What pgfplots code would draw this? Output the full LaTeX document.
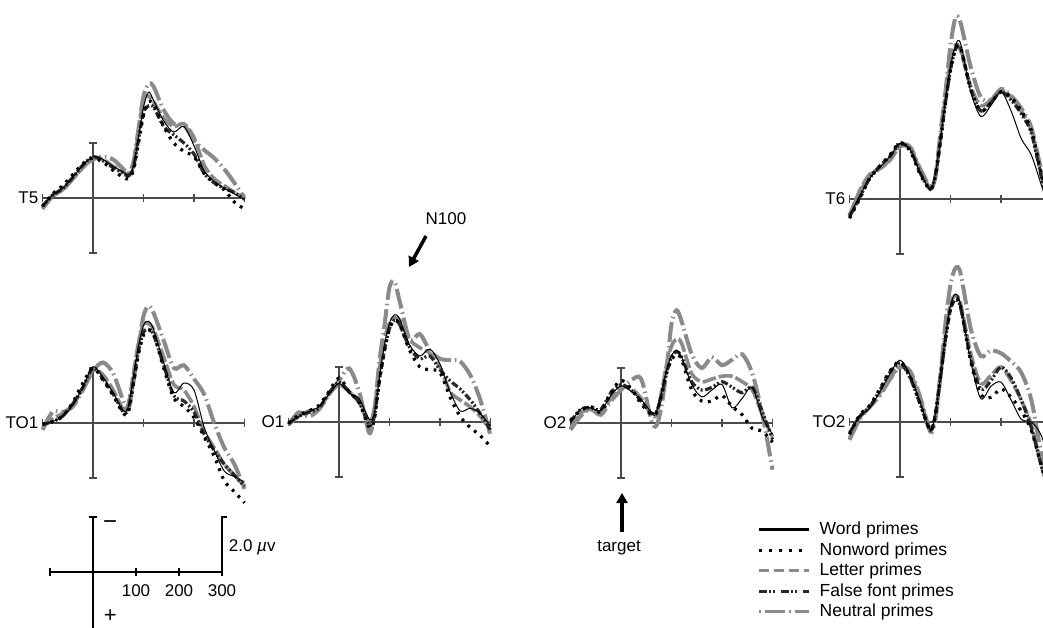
\documentclass[border=0pt]{standalone}
\usepackage{pgfplots}
\pgfplotsset{compat=1.18}
\usepackage{pgfplotstable}
\usepackage{fontspec}
\setmainfont{Liberation Sans}
\usetikzlibrary{arrows.meta}

\definecolor{lgray}{RGB}{138,138,138}
\definecolor{dgray}{RGB}{40,40,40}
\definecolor{axcol}{RGB}{75,75,75}

% values: ERP amplitude in microvolts, negativity plotted upward (value = -uV)
% columns: t (ms), w = word, n = nonword, l = letter, f = false font, u = neutral
\pgfplotstableread{
t w n l f u
-100 -0.30 -0.30 -0.40 -0.30 -0.35
-80 0.10 0.15 0.05 0.10 0.10
-60 0.35 0.45 0.30 0.35 0.30
-40 0.75 0.85 0.70 0.75 0.70
-20 1.20 1.25 1.10 1.20 1.15
0 1.50 1.45 1.45 1.50 1.40
20 1.40 1.30 1.40 1.35 1.50
40 1.15 1.00 1.15 1.10 1.40
60 0.95 0.75 0.95 0.90 1.05
70 0.85 0.70 0.85 0.80 0.90
80 1.15 1.00 1.20 1.10 1.30
90 2.20 2.00 2.40 2.10 2.50
100 3.30 3.00 3.60 3.10 3.70
110 3.85 3.50 3.70 3.35 4.15
120 3.55 3.40 3.50 3.30 4.05
140 2.80 2.60 2.90 2.60 3.20
160 2.40 2.00 2.60 2.30 2.70
180 2.60 1.70 2.70 2.00 2.65
200 1.90 1.50 2.20 1.60 2.10
220 1.00 0.90 1.20 0.90 1.75
240 0.60 0.55 0.70 0.55 1.45
260 0.35 0.30 0.45 0.35 1.05
280 0.15 -0.15 0.20 0.20 0.55
300 -0.05 -0.40 0.00 -0.05 0.00
}\tabTfive

\pgfplotstableread{
t w n l f u
-100 -0.05 -0.05 -0.15 -0.05 -0.25
-80 0.05 0.05 0.15 0.05 0.40
-60 0.25 0.25 0.35 0.25 0.40
-40 0.65 0.75 0.65 0.70 0.60
-20 1.30 1.45 1.25 1.30 1.20
0 2.05 2.00 1.95 2.00 1.90
20 1.65 1.55 1.75 1.60 2.20
40 1.10 1.00 1.20 1.05 1.80
60 0.45 0.35 0.50 0.40 0.80
70 0.60 0.40 0.70 0.50 0.50
80 1.70 1.40 1.80 1.50 1.50
90 2.80 2.50 2.90 2.60 2.80
100 3.55 3.20 3.60 3.30 3.90
110 3.70 3.35 3.60 3.40 4.25
120 3.40 3.25 3.40 3.20 4.00
140 2.20 2.00 2.40 2.10 3.00
160 1.10 0.90 1.40 1.00 2.00
180 1.45 0.60 1.20 0.80 2.10
200 1.20 0.20 0.60 0.40 1.60
220 -0.15 -0.50 -0.30 -0.40 1.05
240 -1.00 -1.20 -0.90 -1.00 0.00
260 -1.75 -2.10 -1.50 -1.50 -0.90
280 -1.95 -2.50 -1.90 -1.90 -1.50
300 -2.15 -2.90 -2.30 -2.30 -2.40
}\tabTOone

\pgfplotstableread{
t w n l f u
-100 -0.05 -0.05 -0.10 -0.05 -0.10
-80 0.20 0.25 0.20 0.20 0.35
-60 0.38 0.40 0.40 0.35 0.20
-40 0.55 0.60 0.50 0.50 0.45
-20 1.00 1.10 1.00 1.05 1.00
0 1.40 1.60 1.35 1.45 1.50
20 1.05 1.10 1.10 1.10 1.95
40 0.85 0.70 0.75 0.70 1.10
60 0.10 -0.20 0.00 -0.10 -0.40
70 0.30 0.10 0.50 0.20 0.40
80 1.60 1.50 1.90 1.50 2.20
90 2.80 2.60 3.00 2.60 3.50
100 3.60 3.40 3.60 3.40 4.90
110 3.90 3.70 3.80 3.70 5.10
120 3.75 3.55 3.70 3.55 4.40
140 2.80 2.60 3.00 2.70 3.00
160 2.40 2.00 2.70 2.30 3.20
180 2.65 1.90 2.50 2.40 2.60
200 2.10 1.80 2.00 1.90 2.30
220 1.10 0.90 1.10 1.50 2.25
240 0.40 0.20 0.80 1.20 2.20
260 0.50 -0.20 0.55 0.80 1.70
280 0.30 -0.50 0.20 0.30 0.80
300 -0.15 -0.90 -0.30 -0.30 -0.50
}\tabOone

\pgfplotstableread{
t w n l f u
-100 0.00 0.10 -0.20 0.05 -0.25
-80 0.50 0.45 0.35 0.50 0.25
-60 0.55 0.60 0.50 0.55 0.50
-40 0.45 0.40 0.40 0.50 0.30
-20 1.00 1.10 0.90 1.10 0.80
0 1.35 1.55 1.30 1.40 1.20
20 1.15 1.25 1.25 1.20 1.55
40 0.85 0.70 0.90 0.80 1.60
60 0.40 0.30 0.30 0.35 0.10
70 0.40 0.35 0.30 0.40 -0.10
80 1.10 1.00 1.10 1.00 0.60
90 1.90 1.80 2.10 1.80 1.90
100 2.45 2.30 2.80 2.40 3.60
110 2.65 2.50 3.05 2.60 4.10
120 2.40 2.30 2.90 2.40 3.70
140 1.40 1.20 1.80 1.50 2.50
160 0.95 0.80 1.50 1.20 2.00
180 1.20 0.80 1.60 1.30 2.40
200 1.40 1.00 1.70 1.50 2.10
220 0.55 0.60 1.70 1.30 2.30
240 0.90 0.30 1.50 1.10 2.50
260 1.30 -0.20 1.20 1.30 1.80
280 0.20 -0.30 0.30 0.40 0.30
300 -0.40 -0.70 -0.50 -0.60 -1.70
}\tabOtwo

\pgfplotstableread{
t w n l f u
-100 -0.60 -0.70 -0.60 -0.65 -0.60
-80 0.10 0.00 0.30 0.05 0.20
-60 0.75 0.75 0.90 0.75 0.85
-40 1.15 1.20 1.10 1.20 1.10
-20 1.55 1.60 1.40 1.55 1.45
0 2.02 2.05 1.90 2.00 1.95
20 1.80 1.75 1.85 1.80 1.90
40 0.95 0.90 1.05 0.95 1.10
60 0.35 0.35 0.40 0.35 0.45
70 0.90 0.85 0.80 0.85 0.80
80 2.15 2.10 2.20 2.10 2.40
90 3.60 3.50 3.70 3.50 3.90
100 4.80 4.70 5.00 4.70 5.60
110 5.60 5.45 5.60 5.45 6.60
120 5.65 5.50 5.40 5.50 6.40
140 3.90 4.00 4.10 4.00 4.80
160 3.00 3.20 3.40 3.20 3.70
180 3.40 3.50 3.60 3.50 3.60
200 3.90 3.90 3.95 3.90 4.00
220 3.20 3.70 3.70 3.60 3.75
240 2.20 3.20 3.20 3.10 3.30
260 1.60 2.50 2.50 2.40 2.60
280 0.50 0.90 0.90 0.80 1.00
300 -0.60 -0.50 -0.50 -0.60 -0.50
}\tabTsix

\pgfplotstableread{
t w n l f u
-100 -0.40 -0.45 -0.60 -0.40 -0.65
-80 0.20 0.25 0.15 0.20 0.10
-60 0.50 0.60 0.55 0.55 0.55
-40 1.10 1.20 1.05 1.15 0.95
-20 1.75 1.85 1.60 1.80 1.55
0 2.25 2.20 2.00 2.15 2.00
20 1.70 1.65 1.80 1.60 1.85
40 0.70 0.65 0.80 0.65 0.90
60 -0.30 -0.30 -0.25 -0.30 -0.35
70 0.30 0.25 0.20 0.30 0.10
80 1.65 1.60 1.70 1.60 1.70
90 3.10 3.00 3.20 3.00 3.60
100 4.25 4.10 4.30 4.10 5.00
110 4.65 4.50 4.60 4.45 5.60
120 4.25 4.20 4.30 4.15 5.40
140 2.20 2.20 2.50 2.30 3.40
160 0.85 1.00 1.40 1.20 2.40
180 1.30 0.90 1.70 1.50 2.60
200 1.45 1.20 2.00 2.00 2.50
220 0.80 0.90 1.50 1.60 2.20
240 0.10 0.40 0.80 0.80 1.80
260 0.00 -0.30 -0.10 -0.20 0.80
280 -0.50 -1.60 -1.60 -1.60 -1.20
300 -1.80 -2.80 -2.80 -2.80 -3.00
}\tabTOtwo

\pgfplotsset{
  panel/.style={hide axis, clip=false, scale only axis, anchor=south west,
    x=0.505pt, y=27.5pt, xmin=-100, xmax=300, ymin=-3, ymax=7},
  wordp/.style={black, line width=1pt, smooth, forget plot},
  nonwp/.style={black, line width=3.2pt, dash pattern=on 2.8pt off 5.6pt, smooth, forget plot},
  letp/.style={lgray, line width=3.6pt, dash pattern=on 14pt off 3pt, smooth, forget plot},
  falp/.style={dgray, line width=3.2pt, dash pattern=on 7pt off 2.5pt on 2pt off 2pt on 2pt off 2.5pt, smooth, forget plot},
  neup/.style={lgray, line width=4pt, dash pattern=on 20pt off 4pt on 1.5pt off 4pt, smooth, forget plot},
}

\newcommand{\panelaxes}[1]{%
  \draw[axcol, line width=1.3pt] (axis cs:-100,0) -- (axis cs:300,0);
  \draw[axcol, line width=1.3pt] (axis cs:0,-2) -- (axis cs:0,2);
  \draw[axcol, line width=1.3pt] ([xshift=-4pt]axis cs:0,2) -- ([xshift=4pt]axis cs:0,2);
  \draw[axcol, line width=1.3pt] ([xshift=-4pt]axis cs:0,-2) -- ([xshift=4pt]axis cs:0,-2);
  \draw[axcol, line width=1.3pt] ([yshift=-4pt]axis cs:-100,0) -- ([yshift=4pt]axis cs:-100,0);
  \draw[axcol, line width=1.3pt] ([yshift=-4pt]axis cs:100,0) -- ([yshift=4pt]axis cs:100,0);
  \draw[axcol, line width=1.3pt] ([yshift=-4pt]axis cs:200,0) -- ([yshift=4pt]axis cs:200,0);
  \draw[axcol, line width=1.3pt] ([yshift=-4pt]axis cs:300,0) -- ([yshift=4pt]axis cs:300,0);
  \node[anchor=east, inner sep=0pt] at ([xshift=-4pt]axis cs:-100,0) {#1};
}

\newcommand{\panelcurves}[1]{%
  \addplot[neup] table[x=t, y=u] {#1};
  \addplot[letp] table[x=t, y=l] {#1};
  \addplot[falp] table[x=t, y=f] {#1};
  \addplot[nonwp] table[x=t, y=n] {#1};
  \addplot[wordp] table[x=t, y=w] {#1};
}

\begin{document}
\fontsize{17}{20}\selectfont
\begin{tikzpicture}[x=1pt, y=1pt]
\path[use as bounding box] (0,0) rectangle (1043,627);
\clip (0,0) rectangle (1043,627);

% T5
\begin{axis}[panel, at={(42.5pt,346.5pt)}]
  \panelaxes{T5}
  \panelcurves{\tabTfive}
\end{axis}
% T6
\begin{axis}[panel, at={(849.5pt,345.5pt)}]
  \panelaxes{T6}
  \panelcurves{\tabTsix}
\end{axis}
% TO1
\begin{axis}[panel, at={(42.5pt,121.5pt)}]
  \panelaxes{TO1}
  \panelcurves{\tabTOone}
\end{axis}
% O1
\begin{axis}[panel, at={(288.5pt,122.5pt)}]
  \panelaxes{O1}
  \panelcurves{\tabOone}
\end{axis}
% O2
\begin{axis}[panel, at={(570.5pt,121.5pt)}]
  \panelaxes{O2}
  \panelcurves{\tabOtwo}
\end{axis}
% TO2 with legend
\begin{axis}[panel, at={(849.5pt,122.5pt)},
  legend style={draw=none, fill=none, at={(-0.458,-0.058)}, anchor=north west,
    row sep=2.3pt, column sep=8pt, inner sep=0pt, font=\fontsize{17.5}{20}\selectfont,
    nodes={inner sep=1.5pt}},
  legend cell align=left,
  legend image code/.code={\draw[#1] (0pt,0pt) -- (50pt,0pt);}]
  \panelaxes{TO2}
  \panelcurves{\tabTOtwo}
  \addlegendimage{black, line width=3pt}
  \addlegendentry{Word primes}
  \addlegendimage{black, line width=3pt, dash pattern=on 3pt off 7pt}
  \addlegendentry{Nonword primes}
  \addlegendimage{lgray, line width=3pt, dash pattern=on 10pt off 5pt}
  \addlegendentry{Letter primes}
  \addlegendimage{dgray, line width=3pt, dash pattern=on 8pt off 2pt on 2pt off 2pt on 2pt off 6pt}
  \addlegendentry{False font primes}
  \addlegendimage{lgray, line width=3pt, dash pattern=on 2pt off 4pt on 20pt off 4pt}
  \addlegendentry{Neutral primes}
\end{axis}

% scale
\begin{axis}[hide axis, clip=false, scale only axis, anchor=south west,
  x=0.43pt, y=27.5pt, xmin=-100, xmax=300, ymin=-3, ymax=3, at={(50pt,-27.5pt)}]
  \addplot[draw=none, forget plot] coordinates {(0,0)};
  \draw[black, line width=1.6pt] (axis cs:-100,0) -- (axis cs:300,0);
  \draw[black, line width=1.6pt] (axis cs:0,2) -- (axis cs:0,-2.3);
  \draw[black, line width=1.6pt] ([xshift=-4pt]axis cs:0,2) -- ([xshift=4pt]axis cs:0,2);
  \draw[black, line width=1.6pt] ([yshift=-4pt]axis cs:-100,0) -- ([yshift=4pt]axis cs:-100,0);
  \draw[black, line width=1.6pt] ([yshift=-4pt]axis cs:100,0) -- ([yshift=4pt]axis cs:100,0);
  \draw[black, line width=1.6pt] ([yshift=-4pt]axis cs:200,0) -- ([yshift=4pt]axis cs:200,0);
  \draw[black, line width=1.6pt] ([yshift=-4pt]axis cs:300,0) -- (axis cs:300,2) -- ([xshift=5pt]axis cs:300,2);
  \node[anchor=north] at ([yshift=-7pt]axis cs:100,0) {100};
  \node[anchor=north] at ([yshift=-7pt]axis cs:200,0) {200};
  \node[anchor=north] at ([yshift=-7pt]axis cs:300,0) {300};
  \node[anchor=west] at ([xshift=1pt]axis cs:300,0.9) {2.0 {\itshape µ}v};
  \node[font=\fontsize{24}{24}\selectfont, inner sep=0pt] at (axis cs:40,1.72) {−};
  \node[font=\fontsize{22}{22}\selectfont, inner sep=0pt] at (axis cs:40,-1.62) {+};
\end{axis}

% annotations
\draw[black, line width=3.5pt, -{Triangle[width=11pt,length=10pt]}] (426,391) -- (409,360);
\node at (446,408) {N100};
\draw[black, line width=3.5pt, -{Triangle[width=11pt,length=10pt]}] (622,95) -- (622,134);
\node at (619,79) {target};
\end{tikzpicture}
\end{document}
